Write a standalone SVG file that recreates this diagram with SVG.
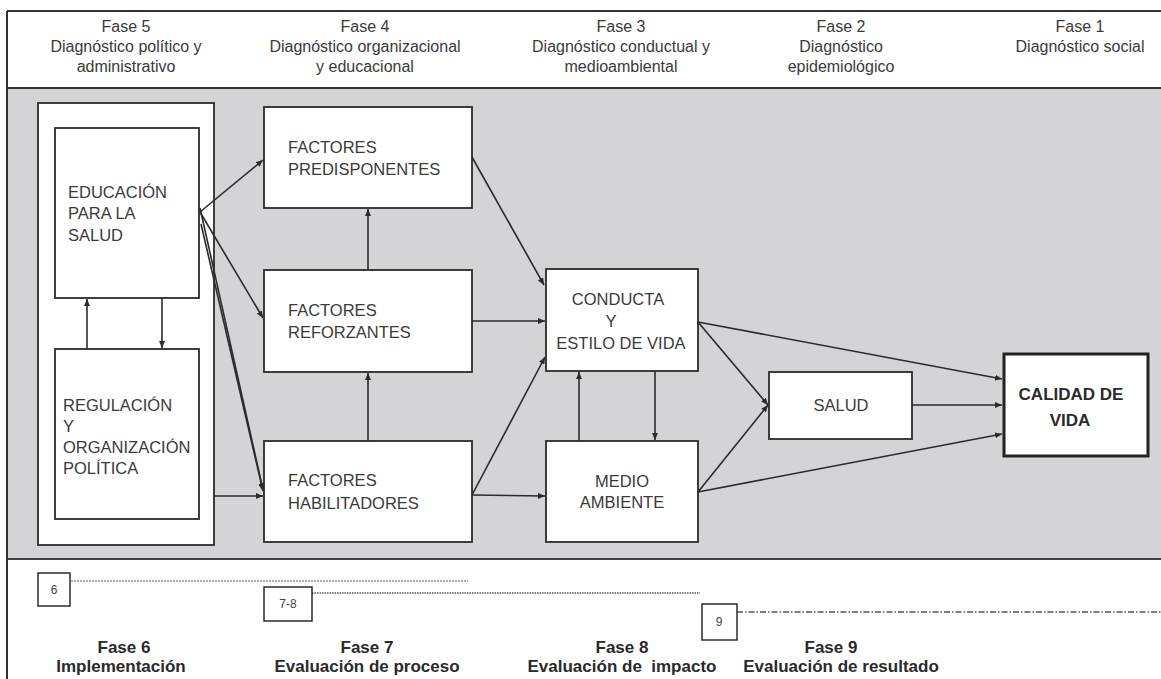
<svg xmlns="http://www.w3.org/2000/svg" width="1161" height="679" viewBox="0 0 1161 679">
<style>
.hdr{font-family:"Liberation Sans",Arial,sans-serif;font-size:16px;fill:#3a3a3a;text-anchor:middle}
.lbl{font-family:"Liberation Sans",Arial,sans-serif;font-size:16.5px;fill:#3a3a3a}
.ctr{text-anchor:middle}
.bold{font-family:"Liberation Sans",Arial,sans-serif;font-size:17px;font-weight:bold;fill:#2a2a2a;text-anchor:middle}
.box{fill:#fff;stroke:#2b2b2b;stroke-width:1.8}
.small{fill:#fff;stroke:#2b2b2b;stroke-width:1.5}
.num{font-family:"Liberation Sans",Arial,sans-serif;font-size:12px;fill:#444;text-anchor:middle}
.con{stroke:#2b2b2b;stroke-width:1.6;fill:none;marker-end:url(#ah)}
</style>
<defs>
<marker id="ah" markerUnits="userSpaceOnUse" markerWidth="8" markerHeight="6" refX="7" refY="3" orient="auto">
<path d="M0,0 L7,3 L0,6 z" fill="#2b2b2b"/>
</marker>
</defs>
<rect x="0" y="0" width="1161" height="679" fill="#fff"/>
<g id="frame">
<rect x="7" y="88" width="1160" height="471" fill="#d4d4d6"/>
<line x1="7" y1="11" x2="1161" y2="11" stroke="#333" stroke-width="2"/>
<line x1="7" y1="88" x2="1161" y2="88" stroke="#333" stroke-width="2"/>
<line x1="7" y1="559" x2="1161" y2="559" stroke="#444" stroke-width="2"/>
<line x1="7" y1="11" x2="7" y2="679" stroke="#333" stroke-width="2"/>
</g>
<g id="header">
<text class="hdr" x="126" y="32">Fase 5</text>
<text class="hdr" x="126" y="52">Diagnóstico político y</text>
<text class="hdr" x="126" y="72">administrativo</text>
<text class="hdr" x="365" y="32">Fase 4</text>
<text class="hdr" x="365" y="52">Diagnóstico organizacional</text>
<text class="hdr" x="365" y="72">y educacional</text>
<text class="hdr" x="621" y="32">Fase 3</text>
<text class="hdr" x="621" y="52">Diagnóstico conductual y</text>
<text class="hdr" x="621" y="72">medioambiental</text>
<text class="hdr" x="841" y="32">Fase 2</text>
<text class="hdr" x="841" y="52">Diagnóstico</text>
<text class="hdr" x="841" y="72">epidemiológico</text>
<text class="hdr" x="1080" y="32">Fase 1</text>
<text class="hdr" x="1080" y="52">Diagnóstico social</text>
</g>
<g id="politico">
<rect class="box" x="38" y="103" width="176" height="442"/>
</g>
<g id="educacion">
<rect class="box" x="55" y="128" width="144" height="170"/>
<text class="lbl" x="68" y="198">EDUCACIÓN</text>
<text class="lbl" x="68" y="219">PARA LA</text>
<text class="lbl" x="68" y="241">SALUD</text>
</g>
<g id="regulacion">
<rect class="box" x="55" y="349" width="144" height="170"/>
<text class="lbl" x="63" y="411">REGULACIÓN</text>
<text class="lbl" x="63" y="432">Y</text>
<text class="lbl" x="63" y="453">ORGANIZACIÓN</text>
<text class="lbl" x="63" y="474">POLÍTICA</text>
</g>
<g id="predisponentes">
<rect class="box" x="264" y="107" width="208" height="101"/>
<text class="lbl" x="288" y="153">FACTORES</text>
<text class="lbl" x="288" y="175">PREDISPONENTES</text>
</g>
<g id="reforzantes">
<rect class="box" x="264" y="270" width="208" height="102"/>
<text class="lbl" x="288" y="316">FACTORES</text>
<text class="lbl" x="288" y="338">REFORZANTES</text>
</g>
<g id="habilitadores">
<rect class="box" x="264" y="441" width="208" height="101"/>
<text class="lbl" x="288" y="486">FACTORES</text>
<text class="lbl" x="288" y="509">HABILITADORES</text>
</g>
<g id="conducta">
<rect class="box" x="546" y="269" width="152" height="102"/>
<text class="lbl ctr" x="618" y="305">CONDUCTA</text>
<text class="lbl ctr" x="611" y="327">Y</text>
<text class="lbl ctr" x="621" y="349">ESTILO DE VIDA</text>
</g>
<g id="medio">
<rect class="box" x="546" y="441" width="152" height="101"/>
<text class="lbl ctr" x="622" y="487">MEDIO</text>
<text class="lbl ctr" x="622" y="508">AMBIENTE</text>
</g>
<g id="salud">
<rect class="box" x="769" y="372" width="143" height="67"/>
<text class="lbl ctr" x="841" y="411">SALUD</text>
</g>
<g id="calidad">
<rect x="1004" y="354" width="144" height="102" fill="#fff" stroke="#222" stroke-width="3"/>
<text class="bold" x="1071" y="400">CALIDAD DE</text>
<text class="bold" x="1070" y="426">VIDA</text>
</g>
<g id="connectors">
<line class="con" x1="200" y1="212" x2="263" y2="160"/>
<line class="con" x1="200" y1="212" x2="263" y2="318"/>
<line class="con" x1="200" y1="208" x2="263" y2="490"/>
<line class="con" x1="201" y1="224" x2="263" y2="491"/>
<line class="con" x1="214" y1="496" x2="263" y2="496"/>
<line class="con" x1="87" y1="349" x2="87" y2="299"/>
<line class="con" x1="162" y1="298" x2="162" y2="348"/>
<line class="con" x1="368" y1="441" x2="368" y2="373"/>
<line class="con" x1="368" y1="270" x2="368" y2="209"/>
<line class="con" x1="472" y1="157" x2="544" y2="285"/>
<line class="con" x1="472" y1="321" x2="545" y2="321"/>
<line class="con" x1="472" y1="495" x2="545" y2="357"/>
<line class="con" x1="472" y1="495" x2="545" y2="496"/>
<line class="con" x1="579" y1="441" x2="579" y2="372"/>
<line class="con" x1="655" y1="371" x2="655" y2="440"/>
<line class="con" x1="698" y1="322" x2="768" y2="405"/>
<line class="con" x1="698" y1="322" x2="1002" y2="379"/>
<line class="con" x1="698" y1="492" x2="768" y2="405"/>
<line class="con" x1="698" y1="492" x2="1002" y2="434"/>
<line class="con" x1="912" y1="405" x2="1002" y2="405"/>
</g>
<g id="evaluacion">
<line x1="71" y1="581" x2="468" y2="581" stroke="#999" stroke-width="1.5" stroke-dasharray="2,1"/>
<line x1="312" y1="593" x2="700" y2="593" stroke="#555" stroke-width="1.5" stroke-dasharray="1.5,1"/>
<line x1="737" y1="612" x2="1161" y2="612" stroke="#555" stroke-width="1.5" stroke-dasharray="6,2,1.5,2"/>
<g id="b6"><rect class="small" x="38" y="573" width="32" height="33"/><text class="num" x="54" y="594">6</text></g>
<g id="b78"><rect class="small" x="264" y="587" width="48" height="34"/><text class="num" x="288" y="608">7-8</text></g>
<g id="b9"><rect class="small" x="702" y="604" width="35" height="36"/><text class="num" x="719" y="626">9</text></g>
<text class="bold" x="124" y="653">Fase 6</text>
<text class="bold" x="121" y="672">Implementación</text>
<text class="bold" x="367" y="653">Fase 7</text>
<text class="bold" x="367" y="672">Evaluación de proceso</text>
<text class="bold" x="622" y="653">Fase 8</text>
<text class="bold" x="622" y="672" xml:space="preserve">Evaluación de  impacto</text>
<text class="bold" x="831" y="653">Fase 9</text>
<text class="bold" x="841" y="672">Evaluación de resultado</text>
</g>
</svg>
